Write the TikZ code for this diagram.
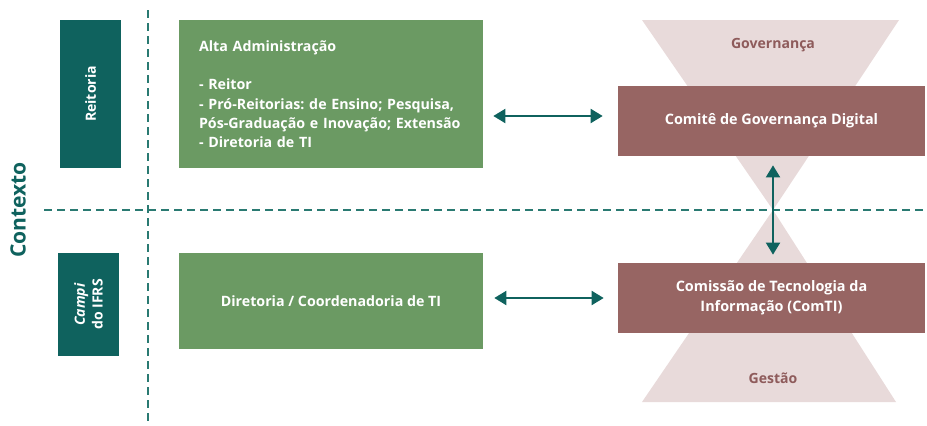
\documentclass[tikz,border=0pt]{standalone}
\usepackage{fontspec}
\setmainfont{Open Sans}
\usepackage{xcolor}
\definecolor{ifteal}{HTML}{0F625E}
\definecolor{dashteal}{HTML}{2A7A72}
\definecolor{ifgreen}{HTML}{6B9A63}
\definecolor{ifmaroon}{HTML}{976563}
\definecolor{hglight}{HTML}{E8DADA}
\definecolor{hgtext}{HTML}{8E5B5B}
\usetikzlibrary{arrows.meta, positioning, calc}
\frenchspacing
\tikzset{
  ctxbox/.style ={rectangle, fill=ifteal, text=white, align=center, inner sep=2pt, rotate=90,
                  font=\bfseries\fontsize{8}{10}\selectfont, minimum height=1.22cm},
  grbox/.style  ={rectangle, fill=ifgreen, text=white, inner xsep=0.4cm, minimum width=6.08cm,
                  font=\bfseries\fontsize{8.1}{11}\selectfont},
  mrbox/.style  ={rectangle, fill=ifmaroon, text=white, align=center, minimum width=6.14cm, minimum height=1.4cm,
                  font=\bfseries\fontsize{8.2}{11.5}\selectfont},
  hglbl/.style  ={font=\bfseries\fontsize{8}{10}\selectfont, text=hgtext},
  sep/.style    ={dashteal, line width=1.1pt, dash pattern=on 4.6pt off 2.8pt},
  tarr/.style   ={{Triangle[length=2.4mm, width=2.8mm]}-{Triangle[length=2.4mm, width=2.8mm]}, line width=1.1pt, color=ifteal},
}
\begin{document}
\begin{tikzpicture}[x=0.02cm, y=-0.02cm]
  \useasboundingbox (0,0) rectangle (927,426);
  % ampulheta
  \fill[hglight] (642,20) -- (899,20) -- (773,210) -- cycle;
  \fill[hglight] (642,402) -- (896,402) -- (773,210) -- cycle;
  \node[hglbl] (gov) at (773,45) {Governança};
  \node[hglbl] (gest) at (773,378) {Gestão};
  % contexto
  \node[rotate=90, font=\bfseries\fontsize{12}{14}\selectfont, text=ifteal] (ctx) at (18,210) {Contexto};
  \node[ctxbox, minimum width=2.96cm] (reit) at (90.5,94) {Reitoria};
  \node[ctxbox, minimum width=2.06cm] (campi) at (88.5,304.5) {\textit{Campi}\\do IFRS};
  \draw[sep] (148,10) -- (148,426);
  \draw[sep] (44,210) -- (927,210);
  % estruturas
  \node[grbox, text width=5.28cm, align=left, minimum height=2.96cm] (alta) at (331,94)
    {Alta Administração\\[\baselineskip]- Reitor\\- Pró-Reitorias: de Ensino; Pesquisa,\\Pós-Graduação e Inovação; Extensão\\- Diretoria de TI};
  \node[grbox, align=center, minimum height=1.92cm] (dirti) at (331,301) {Diretoria / Coordenadoria de TI};
  \node[mrbox] (cgd) at (771.5,121) {Comitê de Governança Digital};
  \node[mrbox] (comti) at (771.5,298) {Comissão de Tecnologia da\\Informação (ComTI)};
  % ligações
  \draw[tarr, shorten <=0.2cm, shorten >=0.3cm] ([yshift=0.1cm]alta.east |- cgd.west) -- ([yshift=0.1cm]cgd.west);
  \draw[tarr, shorten <=0.22cm, shorten >=0.28cm] (dirti.east |- comti.west) -- (comti.west);
  \draw[tarr, shorten <=0.18cm, shorten >=0.16cm] (cgd.south -| 773,0) -- (comti.north -| 773,0);
\end{tikzpicture}
\end{document}
